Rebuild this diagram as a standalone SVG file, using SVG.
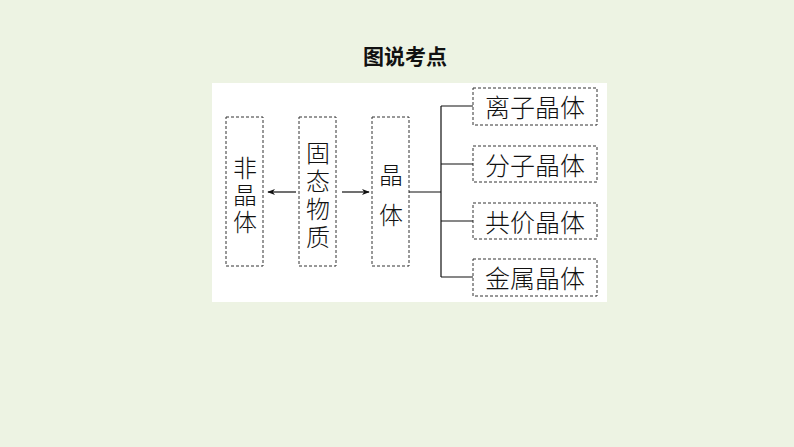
<svg xmlns="http://www.w3.org/2000/svg" width="794" height="447" viewBox="0 0 794 447">
<style>
.b{fill:none;stroke:#333;stroke-width:1;stroke-dasharray:3,2}
.t{font-family:"Noto Sans CJK SC","Noto Sans",sans-serif;font-size:25px;font-weight:300;fill:#111;text-anchor:middle;dominant-baseline:central}
.v{font-size:24px}
.l{stroke:#111;stroke-width:1.2;fill:none}
</style>
<defs><marker id="a" viewBox="0 0 10 10" refX="9" refY="5" markerWidth="8" markerHeight="8" orient="auto" markerUnits="userSpaceOnUse"><path d="M0,1 L10,5 L0,9 L3,5 Z" fill="#111"/></marker></defs>
<rect width="794" height="447" fill="#edf3e3"/>
<text x="405" y="55" font-family="Noto Sans CJK SC,sans-serif" font-size="21" font-weight="bold" text-anchor="middle" dominant-baseline="central" fill="#111">图说考点</text>
<rect x="212" y="83" width="395" height="219" fill="#fff"/>
<g id="n1"><rect class="b" x="226" y="117" width="37" height="149"/><text class="t v"><tspan x="245" y="166">非</tspan><tspan x="245" y="193">晶</tspan><tspan x="245" y="220">体</tspan></text></g>
<g id="n2"><rect class="b" x="299" y="117" width="37" height="149"/><text class="t v"><tspan x="318" y="151">固</tspan><tspan x="318" y="179">态</tspan><tspan x="318" y="207">物</tspan><tspan x="318" y="235">质</tspan></text></g>
<g id="n3"><rect class="b" x="372" y="117" width="37" height="149"/><text class="t v"><tspan x="391" y="173">晶</tspan><tspan x="391" y="213">体</tspan></text></g>
<g id="n4"><rect class="b" x="473" y="88" width="124" height="37"/><text class="t" x="535" y="106">离子晶体</text></g>
<g id="n5"><rect class="b" x="473" y="146" width="124" height="36"/><text class="t" x="535" y="164">分子晶体</text></g>
<g id="n6"><rect class="b" x="473" y="203" width="124" height="36"/><text class="t" x="535" y="221">共价晶体</text></g>
<g id="n7"><rect class="b" x="473" y="259" width="124" height="37"/><text class="t" x="535" y="277">金属晶体</text></g>
<g id="connectors">
<line class="l" x1="296" y1="192" x2="268" y2="192" marker-end="url(#a)"/>
<line class="l" x1="342" y1="192" x2="369" y2="192" marker-end="url(#a)"/>
<path class="l" d="M409,192H441M441,106V277M441,106H473M441,164H473M441,221H473M441,277H473"/>
</g>
</svg>
